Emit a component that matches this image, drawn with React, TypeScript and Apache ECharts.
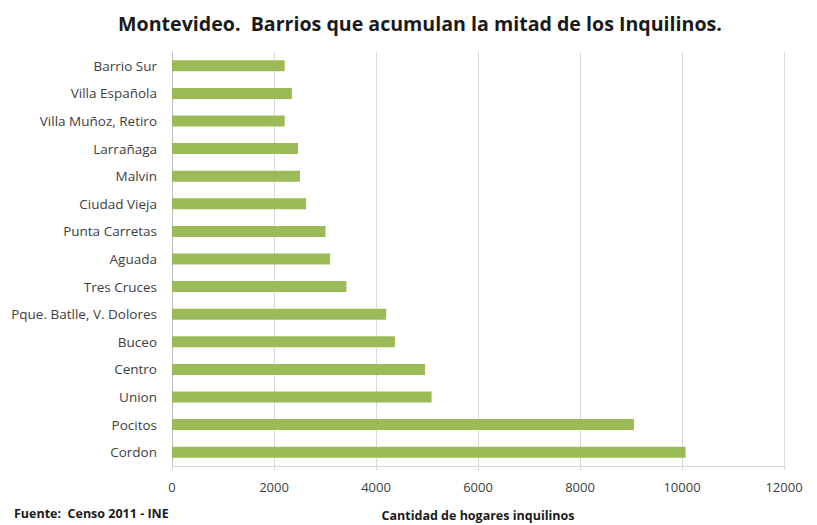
import React, { useEffect, useRef } from "react";
import * as echarts from "echarts";

const categories = [
  "Barrio Sur",
  "Villa Española",
  "Villa Muñoz, Retiro",
  "Larrañaga",
  "Malvin",
  "Ciudad Vieja",
  "Punta Carretas",
  "Aguada",
  "Tres Cruces",
  "Pque. Batlle, V. Dolores",
  "Buceo",
  "Centro",
  "Union",
  "Pocitos",
  "Cordon",
];

const hogares = [2210, 2350, 2210, 2470, 2510, 2630, 3010, 3100, 3420, 4200, 4370, 4960, 5090, 9060, 10070];

const titleText = "Montevideo.  Barrios que acumulan la mitad de los Inquilinos.";
const axisName = "Cantidad de hogares inquilinos";
const sourceText = "Fuente:  Censo 2011 - INE";

const FONT = "'Open Sans', Lato, sans-serif";

export default function App() {
  const ref = useRef<HTMLDivElement>(null);
  useEffect(() => {
    if (!ref.current) return;
    const chart = echarts.init(ref.current, null, { renderer: "svg" });
    chart.setOption({
      animation: false,
      backgroundColor: "#ffffff",
      textStyle: { fontFamily: FONT },
      title: {
        text: titleText,
        left: 415,
        textAlign: "center",
        top: 8,
        textStyle: { fontFamily: FONT, fontSize: 19.6, fontWeight: "bold", color: "#1a1a1a" },
      },
      grid: { left: 172, right: 33, top: 52, bottom: 59, containLabel: false, outerBoundsMode: "none" },
      xAxis: {
        type: "value",
        min: 0,
        max: 12000,
        interval: 2000,
        name: axisName,
        nameLocation: "middle",
        nameGap: 43,
        nameTextStyle: { fontFamily: FONT, fontSize: 12.5, fontWeight: "bold", color: "#1a1a1a" },
        axisLine: { show: true, lineStyle: { color: "#d9d9d9" } },
        axisTick: { show: true, length: 4, lineStyle: { color: "#d9d9d9" } },
        axisLabel: {
          fontFamily: FONT,
          fontSize: 13,
          color: "#404040",
          margin: 14,
          formatter: (v: number) => String(v),
        },
        splitLine: { show: true, lineStyle: { color: "#d9d9d9", width: 1 } },
      },
      yAxis: {
        type: "category",
        data: categories,
        inverse: true,
        axisLine: { show: true, lineStyle: { color: "#bfbfbf" } },
        axisTick: { show: false },
        axisLabel: { fontFamily: FONT, fontSize: 13.5, color: "#404040", margin: 15 },
      },
      series: [
        {
          type: "bar",
          data: hogares,
          barWidth: "40%",
          itemStyle: { color: "#9bbb59" },
        },
      ],
      graphic: [
        {
          type: "text",
          left: 14,
          top: 507,
          style: { text: sourceText, fontFamily: FONT, fontSize: 12.5, fontWeight: "bold", fill: "#1a1a1a" },
        },
      ],
    });
    return () => chart.dispose();
  }, []);
  return <div ref={ref} style={{ position: "absolute", left: 0, top: 0, width: 817, height: 525 }} />;
}
